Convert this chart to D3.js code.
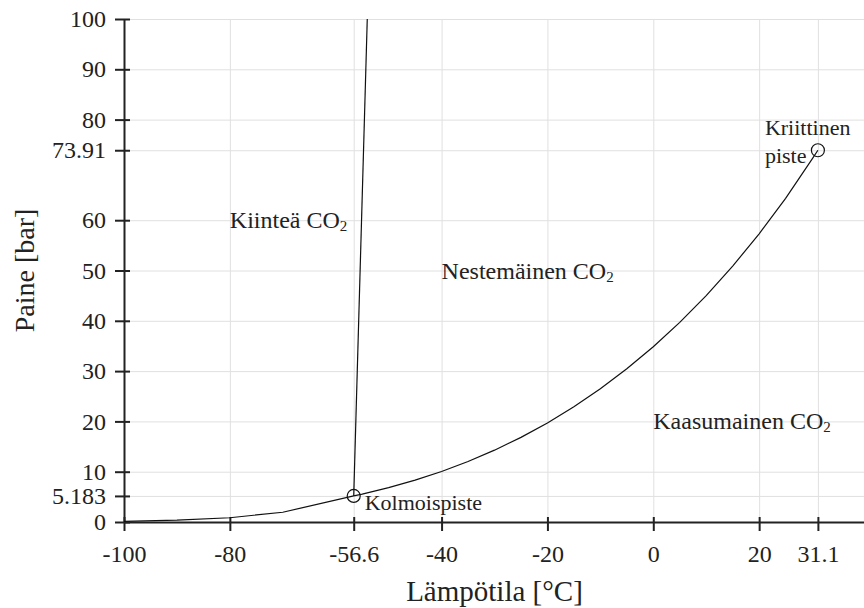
<html>
<head>
<meta charset="utf-8">
<script src="https://d3js.org/d3.v7.min.js"></script>
<style>
    body { margin: 0; background: white; }
    svg text { font-family: "Liberation Serif", "Times New Roman", serif; fill: #222; }
    .gridlines line { stroke: #e0e0e0; stroke-width: 1; }
    .gridlines .domain { stroke: none; }
    .axis .domain { stroke: #222; stroke-width: 2; }
    .axis line { stroke: #222; stroke-width: 2; }
    .axis text { font-size: 24px; }
</style>
</head>
<body>
    <svg id="phase" height="608" width="864"></svg>

    <script>
        // data (CO2 phase diagram)
        const xTicks = [-100, -80, -56.6, -40, -20, 0, 20, 31.1];
        const yTicks = [0, 5.183, 10, 20, 30, 40, 50, 60, 73.91, 80, 90, 100];

        const sublimT = [-100, -90, -80, -70, -56.6];
        const sublimP = [0.14, 0.37, 0.85, 1.94, 5.183];

        const vaporT = [-56.6, -55, -50, -45, -40, -35, -30, -25, -20, -15, -10, -5, 0, 5, 10, 15, 20, 25, 30, 31.1];
        const vaporP = [5.183, 5.54, 6.82, 8.32, 10.05, 12.02, 14.28, 16.83, 19.70, 22.91, 26.49, 30.46,
                        34.85, 39.69, 45.02, 50.87, 57.29, 64.34, 72.14, 73.91];

        const meltT = [-56.6, -54.04];
        const meltP = [5.183, 100];

        const pointNames = ["Kolmoispiste", "Kriittinen piste"];
        const pointT = [-56.6, 31.1];
        const pointP = [5.183, 73.91];

        const regionNames = ["Kiinteä CO₂", "Nestemäinen CO₂", "Kaasumainen CO₂"];
        const regionT = [-80, -40, 0];
        const regionP = [60, 50, 20];

        const svg = d3.select("svg#phase");
        const width = +svg.attr("width");
        const height = +svg.attr("height");
        const margin = {top: 19, right: -1, bottom: 86, left: 124};
        const chartWidth = width - margin.left - margin.right;
        const chartHeight = height - margin.top - margin.bottom;

        const xScale = d3.scaleLinear().domain([-100, 40]).range([0, chartWidth]);
        const yScale = d3.scaleLinear().domain([0, 100]).range([chartHeight, 0]);

        let annotations = svg.append("g").attr("id", "annotations");
        let chartArea = svg.append("g").attr("id", "curves")
                        .attr("transform", `translate(${margin.left},${margin.top})`);

        // gridlines
        annotations.append("g")
            .attr("class", "x gridlines")
            .attr("transform", `translate(${margin.left},${margin.top + chartHeight})`)
            .call(d3.axisBottom(xScale).tickValues(xTicks).tickSize(-chartHeight).tickFormat(""));
        annotations.append("g")
            .attr("class", "y gridlines")
            .attr("transform", `translate(${margin.left},${margin.top})`)
            .call(d3.axisLeft(yScale).tickValues(yTicks).tickSize(-chartWidth).tickFormat(""));

        // axes (plain hyphen as minus, like the original)
        let bottomAxis = d3.axisBottom(xScale).tickValues(xTicks)
                            .tickSizeInner(9).tickSizeOuter(0).tickPadding(14)
                            .tickFormat(d => String(d));
        let xAxisG = annotations.append("g")
            .attr("class", "x axis")
            .attr("transform", `translate(${margin.left},${margin.top + chartHeight})`)
            .call(bottomAxis);
        xAxisG.selectAll(".tick line").attr("y1", -5);

        let leftAxis = d3.axisLeft(yScale).tickValues(yTicks)
                            .tickSizeInner(9).tickSizeOuter(0).tickPadding(9)
                            .tickFormat(d => String(d));
        let yAxisG = annotations.append("g")
            .attr("class", "y axis")
            .attr("transform", `translate(${margin.left},${margin.top})`)
            .call(leftAxis);
        yAxisG.selectAll(".tick line").attr("x1", 6);

        // axis titles
        annotations.append("text")
            .attr("x", margin.left + chartWidth / 2)
            .attr("y", 601)
            .attr("text-anchor", "middle")
            .style("font-size", "29px")
            .text("Lämpötila [°C]");

        annotations.append("text")
            .attr("transform", `translate(34, ${margin.top + chartHeight / 2}) rotate(-90)`)
            .attr("text-anchor", "middle")
            .style("font-size", "28px")
            .text("Paine [bar]");

        // curves
        const line = d3.line().x(d => xScale(d[0])).y(d => yScale(d[1]));
        const curves = [d3.zip(sublimT, sublimP), d3.zip(vaporT, vaporP), d3.zip(meltT, meltP)];
        chartArea.selectAll("path.curve").data(curves)
            .join("path").attr("class", "curve")
            .attr("d", line)
            .attr("fill", "none")
            .attr("stroke", "#111")
            .attr("stroke-width", 1.2);

        // triple point and critical point
        const points = d3.zip(pointT, pointP);
        chartArea.selectAll("circle.point").data(points)
            .join("circle").attr("class", "point")
            .attr("cx", d => xScale(d[0]))
            .attr("cy", d => yScale(d[1]))
            .attr("r", 6.5)
            .attr("fill", "none")
            .attr("stroke", "#111")
            .attr("stroke-width", 1.2);

        chartArea.append("text")
            .attr("x", xScale(pointT[0]) + 11)
            .attr("y", yScale(pointP[0]) + 14)
            .style("font-size", "22px")
            .text(pointNames[0]);

        const critLines = pointNames[1].split(" ");
        chartArea.append("text")
            .attr("x", xScale(pointT[1]) - 53)
            .attr("y", yScale(pointP[1]) - 15)
            .style("font-size", "22px")
            .selectAll("tspan").data(critLines)
            .join("tspan")
            .attr("x", xScale(pointT[1]) - 53)
            .attr("dy", (d, i) => i == 0 ? 0 : 28)
            .text(d => d);

        // region labels, the subscript 2 drawn small as in the original
        let regions = chartArea.selectAll("text.region").data(regionNames)
            .join("text").attr("class", "region")
            .attr("x", (d, i) => xScale(regionT[i]))
            .attr("y", (d, i) => yScale(regionP[i]) + 8)
            .style("font-size", "24px");
        regions.append("tspan").text(d => d.split("₂")[0]);
        regions.append("tspan").attr("dy", 3).style("font-size", "15px").text("2");
    </script>
</body>
</html>
